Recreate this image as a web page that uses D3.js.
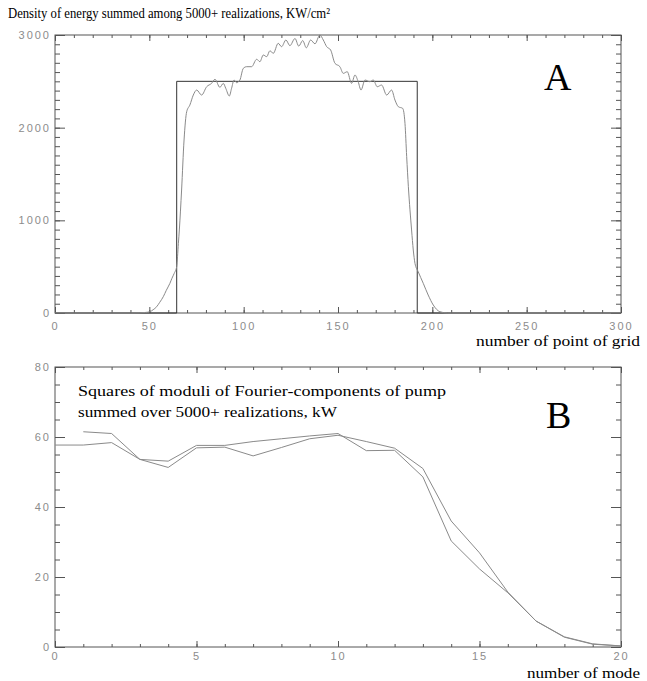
<!DOCTYPE html>
<html>
<head>
<meta charset="utf-8">
<script src="https://cdn.jsdelivr.net/npm/d3@7"></script>
<style>
  body { margin: 0; background: #fff; }
  .ticklab { font-family: "Liberation Sans", sans-serif; font-size: 11px; fill: #8c8c8c; letter-spacing: 2px; }
  .ttl { font-family: "Liberation Serif", "Times New Roman", Tinos, serif; font-size: 15px; fill: #000; }
</style>
</head>
<body>
<div id="chart"></div>
<script>
// panel A: density of energy vs grid point
var gridX = [0, 40, 45, 48, 50.3, 52, 53.9, 55.5, 57.4, 59, 60.9, 62, 63.2, 64.5, 65.4, 65.9, 67.1, 68.4, 69.8, 71.5,
    73.3, 75.1, 77.7, 80.4, 83, 84.8, 87.4, 89.2, 90.5, 92.4, 93.6, 94.9, 96.3, 98, 99.8, 101.6, 104.2, 106.9, 108.6, 110.4,
    112.2, 113.9, 115.7, 118.3, 120.1, 122.4, 124.5, 127.2, 129.2, 131.3, 133.2, 135.5, 137.8, 140.4, 142.2, 144, 146.1, 148.4, 151, 152.8,
    154.9, 157.2, 159, 160.7, 162.2, 164.3, 166.9, 168.7, 170.8, 173.1, 175.8, 178.4, 180.2, 182, 184.3, 185.5, 186.4, 187.3, 189, 189.9,
    190.8, 192.5, 195.2, 197.8, 200.5, 204, 208, 300];
var energy = [0, 0, 2, 6, 14, 35, 68, 115, 176, 245, 320, 375, 428, 500, 752, 896, 1327, 1867, 2172, 2245,
    2352, 2406, 2352, 2442, 2478, 2522, 2435, 2478, 2425, 2342, 2425, 2514, 2485, 2514, 2640, 2658, 2658, 2738, 2712, 2784,
    2766, 2830, 2802, 2910, 2874, 2946, 2885, 2962, 2880, 2940, 2862, 2946, 2905, 3000, 2946, 2874, 2838, 2694, 2658, 2586,
    2604, 2478, 2568, 2496, 2406, 2514, 2496, 2514, 2442, 2460, 2352, 2406, 2298, 2226, 2208, 2047, 1687, 1363, 896, 680,
    536, 446, 320, 194, 86, 14, 0, 0];
// rectangular pump profile
var stepX = [0, 64.5, 64.5, 192, 192, 300];
var stepY = [0, 0, 2500, 2500, 0, 0];

// panel B: squares of moduli of Fourier components
var modeA = [0, 1, 2, 3, 4, 5, 6, 7, 8, 9, 10, 11, 12, 13, 14, 15, 16, 17, 18, 19, 20];
var fourierA = [57.7, 57.7, 58.4, 53.6, 51.3, 56.9, 57.1, 54.6, 57.0, 59.5, 60.5, 58.7, 56.8, 51.0, 36.0, 26.9, 15.7, 7.4, 2.9, 0.9, 0.3];
var modeB = [1, 2, 3, 4, 5, 6, 7, 8, 9, 10, 11, 12, 13, 14, 15, 16, 17, 18, 19, 20];
var fourierB = [61.5, 61.0, 53.6, 53.1, 57.6, 57.6, 58.7, 59.5, 60.3, 61.0, 56.1, 56.2, 48.6, 30.3, 22.3, 15.5, 7.4, 2.8, 0.8, 0.3];

var xTicksA = [0, 50, 100, 150, 200, 250, 300];
var yTicksA = [0, 1000, 2000, 3000];
var xTicksB = [0, 5, 10, 15, 20];
var yTicksB = [0, 20, 40, 60, 80];

var W = 647, H = 681;
var svg = d3.select("#chart").append("svg").attr("width", W).attr("height", H);

function drawPanel(p) {
    var x = d3.scaleLinear().domain(p.xDomain).range([55, 621]);
    var y = d3.scaleLinear().domain(p.yDomain).range([p.bottom, p.top]);
    var g = svg.append("g");
    var frameCol = "#555";

    // minor ticks (no labels), all four sides, pointing inward
    var minorX = d3.range(p.xDomain[0], p.xDomain[1] + 1e-9, p.xMinor);
    var minorY = d3.range(p.yDomain[0], p.yDomain[1] + 1e-9, p.yMinor);
    var sides = [
        [d3.axisBottom(x).tickValues(minorX).tickSize(-3), "translate(0," + p.bottom + ")"],
        [d3.axisTop(x).tickValues(minorX).tickSize(-3), "translate(0," + p.top + ")"],
        [d3.axisLeft(y).tickValues(minorY).tickSize(-5), "translate(55,0)"],
        [d3.axisRight(y).tickValues(minorY).tickSize(-5), "translate(621,0)"],
        [d3.axisTop(x).tickValues(p.xTicks).tickSize(-6), "translate(0," + p.top + ")"],
        [d3.axisRight(y).tickValues(p.yTicks).tickSize(-10), "translate(621,0)"]
    ];
    sides.forEach(function (s) {
        var a = g.append("g").attr("transform", s[1])
            .call(s[0].tickFormat("").tickSizeOuter(0));
        a.select(".domain").remove();
        a.selectAll("line").attr("stroke", frameCol);
    });

    // major ticks with labels
    var xa = g.append("g").attr("transform", "translate(0," + p.bottom + ")")
        .call(d3.axisBottom(x).tickValues(p.xTicks).tickSize(-6).tickSizeOuter(0)
            .tickPadding(p.xPad).tickFormat(d3.format("d")));
    var ya = g.append("g").attr("transform", "translate(55,0)")
        .call(d3.axisLeft(y).tickValues(p.yTicks).tickSize(-10).tickSizeOuter(0)
            .tickPadding(4).tickFormat(d3.format("d")));
    [xa, ya].forEach(function (a) {
        a.select(".domain").remove();
        a.selectAll("line").attr("stroke", frameCol);
        a.selectAll("text").attr("class", "ticklab").attr("fill", null);
    });
    ya.selectAll("text").attr("dy", "0.32em");

    // frame
    g.append("rect").attr("x", 55).attr("y", p.top).attr("width", 566).attr("height", p.bottom - p.top)
        .attr("fill", "none").attr("stroke", frameCol);

    p.lines.forEach(function (l) {
        var pts = l.xs.map(function (d, i) { return [d, l.ys[i]]; });
        g.append("path").datum(pts)
            .attr("fill", "none").attr("stroke", l.color).attr("stroke-width", 1)
            .attr("d", d3.line().x(function (d) { return x(d[0]); }).y(function (d) { return y(d[1]); }).curve(l.curve));
    });
    return g;
}

var gA = drawPanel({
    xDomain: [0, 300], yDomain: [0, 3000], top: 35, bottom: 313, xPad: 9,
    xTicks: xTicksA, yTicks: yTicksA, xMinor: 10, yMinor: 100,
    lines: [
        { xs: stepX, ys: stepY, color: "#333", curve: d3.curveLinear },
        { xs: gridX, ys: energy, color: "#8a8a8a", curve: d3.curveMonotoneX }
    ]
});

var gB = drawPanel({
    xDomain: [0, 20], yDomain: [0, 80], top: 367, bottom: 647, xPad: 5,
    xTicks: xTicksB, yTicks: yTicksB, xMinor: 1, yMinor: 5,
    lines: [
        { xs: modeA, ys: fourierA, color: "#8a8a8a", curve: d3.curveLinear },
        { xs: modeB, ys: fourierB, color: "#8a8a8a", curve: d3.curveLinear }
    ]
});

// titles and labels (widths fitted to the picture)
function label(txt, x, y, len, anchor) {
    return svg.append("text").attr("class", "ttl").attr("x", x).attr("y", y)
        .attr("text-anchor", anchor || "start")
        .attr("textLength", len).attr("lengthAdjust", "spacingAndGlyphs")
        .text(txt);
}
label("Density of energy summed among 5000+ realizations, KW/cm\u00B2", 8, 18, 322);

label("number of point of grid", 640, 346, 164, "end");
label("number of mode", 640, 678, 113, "end");
label("Squares of moduli of Fourier-components of pump", 78, 396, 368);
label("summed over 5000+ realizations, kW", 78, 417, 259);

svg.append("text").attr("class", "ttl").attr("x", 544).attr("y", 90).style("font-size", "38px").text("A");
svg.append("text").attr("class", "ttl").attr("x", 546).attr("y", 428).style("font-size", "38px").text("B");
</script>
</body>
</html>
